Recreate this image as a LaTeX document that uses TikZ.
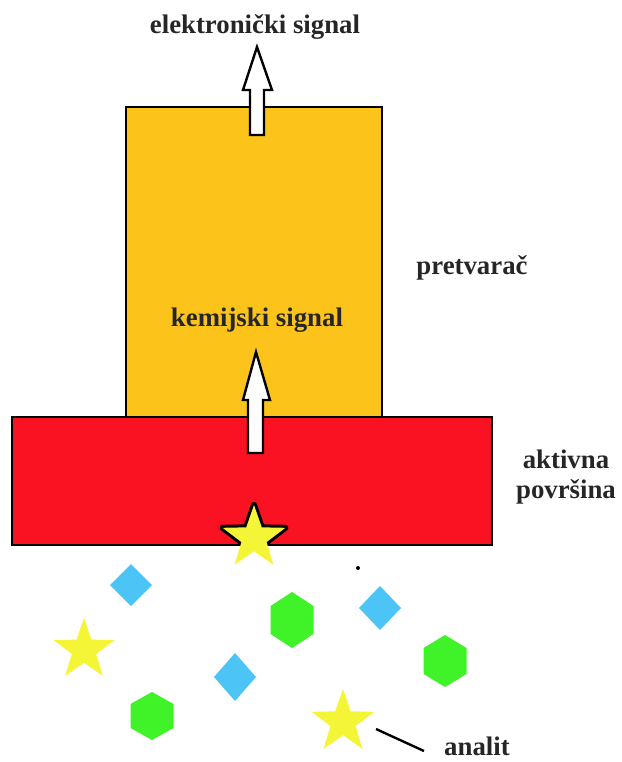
\documentclass[tikz,border=0pt]{standalone}
\usepackage{fontspec}
\setmainfont{Liberation Serif}
\usepackage{tikz}
\usetikzlibrary{calc, shapes.geometric}

\definecolor{narancasta}{RGB}{252,195,26}
\definecolor{crvena}{RGB}{250,18,34}
\definecolor{plava}{RGB}{76,196,245}
\definecolor{zelena}{RGB}{64,242,40}
\definecolor{zuta}{RGB}{245,245,55}
\definecolor{tekst}{RGB}{38,38,38}

\tikzset{
    oznaka/.style={text=tekst, inner sep=1pt, align=center},
    zvijezda/.style={star, star points=5, star point ratio=2.5, minimum size=33pt,
        inner sep=0pt, fill=zuta},
    strelica/.style={draw=black, fill=white, line width=1.2pt, line join=miter}
}

\begin{document}
\begin{tikzpicture}[x=0.5pt, y=-0.5pt, font=\bfseries\fontsize{13.4}{15}\selectfont]
    \useasboundingbox (0,0) rectangle (622,762);
    % 1. Pretvarač i aktivna površina
    \draw[fill=narancasta, line width=1.4pt] (126,107) rectangle (382,417);
    \draw[fill=crvena, line width=1.4pt] (12,417) rectangle (492,545);

    % 2. Strelice
    \draw[strelica] (250,135) -- (250,90) -- (243,90) -- (257,47) -- (272,90)
        -- (264,90) -- (264,135) -- cycle;
    \draw[strelica] (248,453) -- (248,400) -- (243,400) -- (256,352) -- (270,400)
        -- (263,400) -- (263,453) -- cycle;

    % 3. Natpisi
    \node[oznaka] (elsig) at (255,27) {elektronički signal};
    \node[oznaka] (kemsig) at (257,320) {kemijski signal};
    \node[oznaka] (pretvarac) at (472,268) {pretvarač};
    \node[oznaka] (povrsina) at (566,477) {aktivna\\površina};
    \node[oznaka] (analit) at (477,746) {analit};

    % 4. Zvijezda vezana na površinu
    \begin{scope}
        \clip (12,417) rectangle (492,545);
        \node[zvijezda, draw=black, line width=3pt, line join=round] at (254,538) {};
    \end{scope}
    \node[zvijezda] (vezana) at (254,538) {};

    % 5. Otopina: rombovi, šesterokuti, zvijezde
    \foreach \cx/\cy/\h in {131/585/21, 380/608/22, 235/677/24}
        \fill[plava] (\cx,\cy) ++(0,-\h) -- ++(21,\h) -- ++(-21,\h) -- ++(-21,-\h) -- cycle;
    \foreach \cx/\cy/\h in {292/620/14, 445/661/13, 152/716/12}
        \fill[zelena] (\cx,\cy) ++(0,-2*\h) -- ++(21.5,\h) -- ++(0,2*\h) -- ++(-21.5,\h)
            -- ++(-21.5,-\h) -- ++(0,-2*\h) -- cycle;
    \node[zvijezda, minimum size=32pt] (lijeva) at (84,650) {};
    \node[zvijezda] (analitzv) at (343,722) {};
    \fill (358,568) circle (2);

    % 6. Oznaka analita
    \coordinate (kraj) at (424,751);
    \draw[line width=1.2pt] ($(analitzv)+(33,7)$) -- (kraj);
\end{tikzpicture}
\end{document}
